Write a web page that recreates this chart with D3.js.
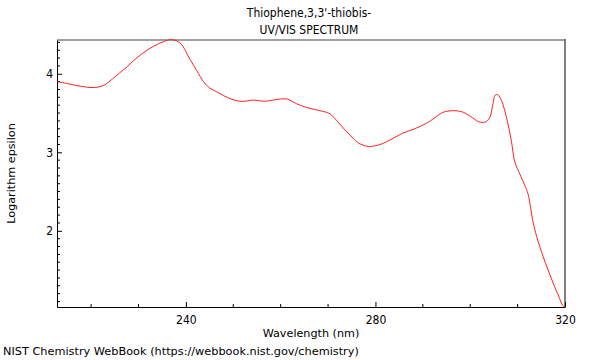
<!DOCTYPE html>
<html>
<head>
<meta charset="utf-8">
<script src="https://cdn.jsdelivr.net/npm/d3@7"></script>
<style>
  html, body { margin: 0; padding: 0; background: #fff; }
  svg { display: block; }
  text { font-family: "DejaVu Sans Condensed", "DejaVu Sans", sans-serif; fill: #000; }
</style>
</head>
<body>
<svg id="chart" width="600" height="360"></svg>
<script>
const titleLines = ["Thiophene,3,3'-thiobis-", "UV/VIS SPECTRUM"];
const xLabel = "Wavelength (nm)";
const yLabel = "Logarithm epsilon";
const footer = "NIST Chemistry WebBook (https://webbook.nist.gov/chemistry)";

const wavelength = [212.8, 215, 217, 219, 220.5, 222.6, 224.7, 226, 227.6, 229, 230.4, 231.8, 233.2, 235.3, 237, 238.8, 240.9, 242.3, 243.7, 245, 246.5, 248, 249.5, 250.8, 252.5, 254, 255, 256.5, 258, 260, 261.5, 263.3, 265.5, 268.3, 270.4, 271.8, 273.2, 274.8, 276.4, 278.5, 281, 283.5, 285.8, 288.3, 290.8, 292.5, 294.3, 296.4, 298, 299.2, 300.5, 301.7, 302.6, 303.4, 304.2, 304.8, 305.3, 305.9, 306.6, 307.2, 308, 308.7, 309.4, 310.5, 311.5, 312.2, 313.3, 314.3, 315.4, 316.5, 317.8, 318.8, 319.5, 320];
const logEpsilon = [3.90, 3.875, 3.85, 3.83, 3.825, 3.85, 3.945, 4.01, 4.09, 4.17, 4.24, 4.30, 4.35, 4.41, 4.435, 4.39, 4.18, 4.04, 3.90, 3.82, 3.77, 3.72, 3.68, 3.655, 3.65, 3.665, 3.66, 3.65, 3.66, 3.68, 3.675, 3.62, 3.57, 3.53, 3.49, 3.405, 3.31, 3.21, 3.12, 3.075, 3.10, 3.17, 3.245, 3.30, 3.37, 3.44, 3.51, 3.53, 3.52, 3.49, 3.44, 3.39, 3.38, 3.39, 3.455, 3.62, 3.73, 3.73, 3.66, 3.55, 3.35, 3.14, 2.88, 2.72, 2.58, 2.47, 2.10, 1.87, 1.67, 1.49, 1.29, 1.15, 1.05, 1.03];

const xDomain = [212.8, 320];
const yDomain = [1.03, 4.43];
const xMajorTicks = [240, 280, 320];
const yMajorTicks = [2, 3, 4];

const svg = d3.select("#chart");
const L = 57, R = 565, T = 40, B = 307;

const x = d3.scaleLinear().domain(xDomain).range([L, R]);
const y = d3.scaleLinear().domain(yDomain).range([B, T]);

// frame top & right
svg.append("line").attr("x1", L).attr("x2", R).attr("y1", T).attr("y2", T)
  .attr("stroke", "#a0a0a0").attr("stroke-width", 2);
svg.append("line").attr("x1", R).attr("x2", R).attr("y1", T - 1).attr("y2", B)
  .attr("stroke", "#555").attr("stroke-width", 1.5);

// minor ticks
const xMinor = d3.range(220, 320, 10).filter(v => !xMajorTicks.includes(v));
const yMinor = d3.range(11, 45, 1).map(v => v / 10).filter(v => !yMajorTicks.includes(v) && v >= yDomain[0] && v <= yDomain[1]);

const xAxis = d3.axisBottom(x).tickValues(xMajorTicks).tickSizeInner(-5).tickSizeOuter(0).tickPadding(8).tickFormat(d3.format("d"));
const gx = svg.append("g").attr("transform", `translate(0,${B})`).call(xAxis);
gx.selectAll("line.minor").data(xMinor).enter().append("line").attr("class", "minor")
  .attr("x1", d => x(d)).attr("x2", d => x(d)).attr("y1", 0).attr("y2", -3).attr("stroke", "#000");

const yAxis = d3.axisLeft(y).tickValues(yMajorTicks).tickSizeInner(-5).tickSizeOuter(0).tickPadding(4).tickFormat(d3.format("d"));
const gy = svg.append("g").attr("transform", `translate(${L},0)`).call(yAxis);
gy.selectAll("line.minor").data(yMinor).enter().append("line").attr("class", "minor")
  .attr("x1", 0).attr("x2", 3).attr("y1", d => y(d)).attr("y2", d => y(d)).attr("stroke", "#000");

[gx, gy].forEach(g => {
  g.select(".domain").attr("stroke", "#000");
  g.selectAll("text").style("font-family", "'DejaVu Sans Condensed', 'DejaVu Sans', sans-serif").style("font-size", "12px").attr("fill", "#000");
});

// curve
const pts = wavelength.map((w, i) => [w, logEpsilon[i]]);
svg.append("path").datum(pts)
  .attr("fill", "none").attr("stroke", "#ff2020").attr("stroke-width", 1)
  .attr("d", d3.line().x(d => x(d[0])).y(d => y(d[1])).curve(d3.curveCatmullRom.alpha(0.5)));

// titles
svg.append("text").attr("x", 309).attr("y", 17).attr("text-anchor", "middle").style("font-size", "12px").text(titleLines[0]);
svg.append("text").attr("x", 309).attr("y", 34).attr("text-anchor", "middle").style("font-size", "12px").text(titleLines[1]);
svg.append("text").attr("x", 311).attr("y", 337).attr("text-anchor", "middle")
  .style("font-family", "'DejaVu Sans', sans-serif").style("font-size", "11.2px").text(xLabel);
svg.append("text").attr("transform", `translate(15,${(T + B) / 2}) rotate(-90)`).attr("text-anchor", "middle")
  .style("font-family", "'DejaVu Sans', sans-serif").style("font-size", "11.2px").text(yLabel);
svg.append("text").attr("x", 3).attr("y", 355).style("font-family", "'DejaVu Sans', sans-serif").style("font-size", "11.3px").text(footer);
</script>
</body>
</html>
